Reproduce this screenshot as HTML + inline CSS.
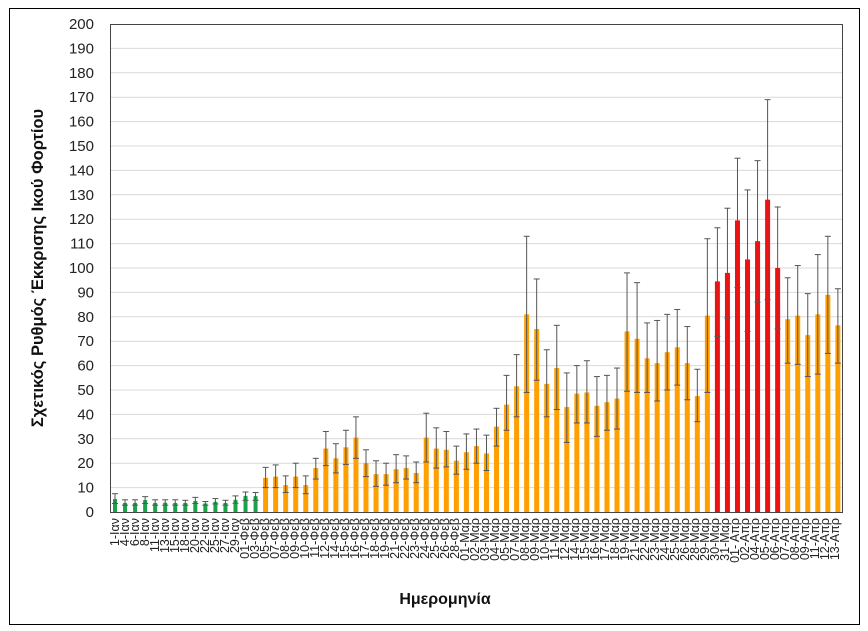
<!DOCTYPE html>
<html><head><meta charset="utf-8"><style>
html,body{margin:0;padding:0;background:#fff;}
svg{display:block;font-family:"Liberation Sans","DejaVu Sans",sans-serif;}
</style></head><body>
<svg id="c" width="868" height="631" xmlns="http://www.w3.org/2000/svg">
<rect x="9.5" y="8.5" width="850" height="616" fill="#fff" stroke="#000" stroke-width="1"/>
<g id="grid"></g>
<g font-size="15" fill="#222" text-anchor="end">
<text x="94" y="29">200</text><text x="94" y="53.4">190</text><text x="94" y="77.8">180</text><text x="94" y="102.2">170</text><text x="94" y="126.6">160</text><text x="94" y="151">150</text><text x="94" y="175.4">140</text><text x="94" y="199.8">130</text><text x="94" y="224.2">120</text><text x="94" y="248.6">110</text><text x="94" y="273">100</text><text x="94" y="297.4">90</text><text x="94" y="321.8">80</text><text x="94" y="346.2">70</text><text x="94" y="370.6">60</text><text x="94" y="395">50</text><text x="94" y="419.4">40</text><text x="94" y="443.8">30</text><text x="94" y="468.2">20</text><text x="94" y="492.6">10</text><text x="94" y="517">0</text>
</g>
<text transform="translate(43,268) rotate(-90)" text-anchor="middle" font-size="16.5" font-weight="bold" fill="#111">Σχετικός Ρυθμός Έκκρισης Ικού Φορτίου</text>
<text x="445" y="604" text-anchor="middle" font-size="16" font-weight="bold" fill="#111">Ημερομηνία</text>
<g id="bars"></g>
<g id="xl" font-size="12.5" fill="#222" text-anchor="end">
<text transform="translate(119,518) rotate(-90)">1-Ιαν</text>
<text transform="translate(129,518) rotate(-90)">4-Ιαν</text>
<text transform="translate(139,518) rotate(-90)">6-Ιαν</text>
<text transform="translate(149,518) rotate(-90)">8-Ιαν</text>
<text transform="translate(159,518) rotate(-90)">11-Ιαν</text>
<text transform="translate(169,518) rotate(-90)">13-Ιαν</text>
<text transform="translate(179,518) rotate(-90)">15-Ιαν</text>
<text transform="translate(189,518) rotate(-90)">18-Ιαν</text>
<text transform="translate(199,518) rotate(-90)">20-Ιαν</text>
<text transform="translate(209,518) rotate(-90)">22-Ιαν</text>
<text transform="translate(219,518) rotate(-90)">25-Ιαν</text>
<text transform="translate(229,518) rotate(-90)">27-Ιαν</text>
<text transform="translate(239,518) rotate(-90)">29-Ιαν</text>
<text transform="translate(249,518) rotate(-90)">01-Φεβ</text>
<text transform="translate(259,518) rotate(-90)">03-Φεβ</text>
<text transform="translate(269,518) rotate(-90)">05-Φεβ</text>
<text transform="translate(279,518) rotate(-90)">07-Φεβ</text>
<text transform="translate(289,518) rotate(-90)">08-Φεβ</text>
<text transform="translate(299,518) rotate(-90)">09-Φεβ</text>
<text transform="translate(309,518) rotate(-90)">10-Φεβ</text>
<text transform="translate(319,518) rotate(-90)">11-Φεβ</text>
<text transform="translate(329,518) rotate(-90)">12-Φεβ</text>
<text transform="translate(339,518) rotate(-90)">14-Φεβ</text>
<text transform="translate(349,518) rotate(-90)">15-Φεβ</text>
<text transform="translate(359,518) rotate(-90)">16-Φεβ</text>
<text transform="translate(369,518) rotate(-90)">17-Φεβ</text>
<text transform="translate(379,518) rotate(-90)">18-Φεβ</text>
<text transform="translate(389,518) rotate(-90)">19-Φεβ</text>
<text transform="translate(399,518) rotate(-90)">21-Φεβ</text>
<text transform="translate(409,518) rotate(-90)">22-Φεβ</text>
<text transform="translate(419,518) rotate(-90)">23-Φεβ</text>
<text transform="translate(429,518) rotate(-90)">24-Φεβ</text>
<text transform="translate(439,518) rotate(-90)">25-Φεβ</text>
<text transform="translate(449,518) rotate(-90)">26-Φεβ</text>
<text transform="translate(459,518) rotate(-90)">28-Φεβ</text>
<text transform="translate(469,518) rotate(-90)">01-Μαρ</text>
<text transform="translate(479,518) rotate(-90)">02-Μαρ</text>
<text transform="translate(489,518) rotate(-90)">03-Μαρ</text>
<text transform="translate(499,518) rotate(-90)">04-Μαρ</text>
<text transform="translate(509,518) rotate(-90)">05-Μαρ</text>
<text transform="translate(519,518) rotate(-90)">07-Μαρ</text>
<text transform="translate(529,518) rotate(-90)">08-Μαρ</text>
<text transform="translate(539,518) rotate(-90)">09-Μαρ</text>
<text transform="translate(549,518) rotate(-90)">10-Μαρ</text>
<text transform="translate(559,518) rotate(-90)">11-Μαρ</text>
<text transform="translate(569,518) rotate(-90)">12-Μαρ</text>
<text transform="translate(579,518) rotate(-90)">14-Μαρ</text>
<text transform="translate(589,518) rotate(-90)">15-Μαρ</text>
<text transform="translate(599,518) rotate(-90)">16-Μαρ</text>
<text transform="translate(609,518) rotate(-90)">17-Μαρ</text>
<text transform="translate(619,518) rotate(-90)">18-Μαρ</text>
<text transform="translate(629,518) rotate(-90)">19-Μαρ</text>
<text transform="translate(639,518) rotate(-90)">21-Μαρ</text>
<text transform="translate(649,518) rotate(-90)">22-Μαρ</text>
<text transform="translate(659,518) rotate(-90)">23-Μαρ</text>
<text transform="translate(669,518) rotate(-90)">24-Μαρ</text>
<text transform="translate(679,518) rotate(-90)">25-Μαρ</text>
<text transform="translate(689,518) rotate(-90)">26-Μαρ</text>
<text transform="translate(699,518) rotate(-90)">28-Μαρ</text>
<text transform="translate(709,518) rotate(-90)">29-Μαρ</text>
<text transform="translate(719,518) rotate(-90)">30-Μαρ</text>
<text transform="translate(729,518) rotate(-90)">31-Μαρ</text>
<text transform="translate(739,518) rotate(-90)">01- Απρ</text>
<text transform="translate(749,518) rotate(-90)">02-Απρ</text>
<text transform="translate(759,518) rotate(-90)">04-Απρ</text>
<text transform="translate(769,518) rotate(-90)">05-Απρ</text>
<text transform="translate(779,518) rotate(-90)">06-Απρ</text>
<text transform="translate(789,518) rotate(-90)">07-Απρ</text>
<text transform="translate(799,518) rotate(-90)">08-Απρ</text>
<text transform="translate(809,518) rotate(-90)">09-Απρ</text>
<text transform="translate(819,518) rotate(-90)">11-Απρ</text>
<text transform="translate(829,518) rotate(-90)">12-Απρ</text>
<text transform="translate(839,518) rotate(-90)">13-Απρ</text>
</g>
<rect x="110.5" y="24.5" width="732" height="488" fill="none" stroke="#444" stroke-width="1"/>
</svg>
<script>
var NS="http://www.w3.org/2000/svg";
function el(p,t,a){var e=document.createElementNS(NS,t);for(var k in a)e.setAttribute(k,a[k]);p.appendChild(e);return e;}
var g=document.getElementById("grid");
for(var i=1;i<20;i++){var y=512-i*24.4;el(g,"line",{x1:111,x2:842,y1:y,y2:y,stroke:"#d9d9d9","stroke-width":1});}
var d=[[5.3,3.5,7.5],[3.7,2.8,5],[3.7,2.8,5],[4.9,3.5,6.3],[3.7,2.8,5],[3.8,2.8,5],[3.7,2.8,5],[3.7,2.8,4.8],[4.5,3.5,6],[3.5,2.8,4.3],[4.2,3.3,5.5],[3.7,2.8,4.8],[5,3.6,6.6],[6.6,4.8,8.2],[6.5,4.8,8],
[14,10,18.3],[14.5,10,19.3],[11,8,14.8],[14.5,10,20],[11,7.5,14.8],[18,13.5,22],[26,19,33],[22,16,28],[26.5,19.5,33.5],[30.5,22,39],[20,14.5,25.5],[15.5,10.5,21],[15.5,11,20],[17.5,12,23.5],[18,13.5,23],[16,12,20.5],[30.5,20.5,40.5],[26,18,34.5],[25.5,18.5,33],[21,15.5,27],
[24.5,17.5,32],[27,20,34],[24,17,31.5],[35,27,42.5],[44,33.5,56],[51.5,39,64.5],[81,49,113],[75,54,95.5],[52.5,39,66.5],[59,42,76.5],[43,28.5,57],[48.5,36.5,60],[49,36.5,62],[43.5,31,55.5],[45,33.5,56],[46.5,34,59],[74,49.5,98],[71,49,94],[63,49,77.5],[61,45.5,78.5],[65.5,50,81],[67.5,52,83],[61,46,76],[47.5,37,58.5],[80.5,49,112],
[94.5,72,116.5],[98,79.5,124.5],[119.5,92,145],[103.5,74,132],[111,86,144],[128,87,169],[100,75,125],
[79,61,96],[80.5,60.5,101],[72.5,55.5,89.5],[81,56.5,105.5],[89,65,113],[76.5,61,91.5]];
var b=document.getElementById("bars");
function Y(v){return 512-v*2.44;}
d.forEach(function(r,i){
 var cx=115+i*10.04;
 var col=i<15?"#1aa34a":(i>=60&&i<67?"#ee1111":"#ff9f00");
 var w=i<15?4:5;
 el(b,"rect",{x:cx-w/2,y:Y(r[0]),width:w,height:r[0]*2.44,fill:col});
 var s={stroke:"#555","stroke-width":1};
 el(b,"line",Object.assign({x1:cx,x2:cx,y1:Y(r[1]),y2:Y(r[2])},s));
 el(b,"line",Object.assign({x1:cx-3,x2:cx+3,y1:Y(r[1]),y2:Y(r[1])},s));
 el(b,"line",Object.assign({x1:cx-3,x2:cx+3,y1:Y(r[2]),y2:Y(r[2])},s));
});
</script>
</body></html>
